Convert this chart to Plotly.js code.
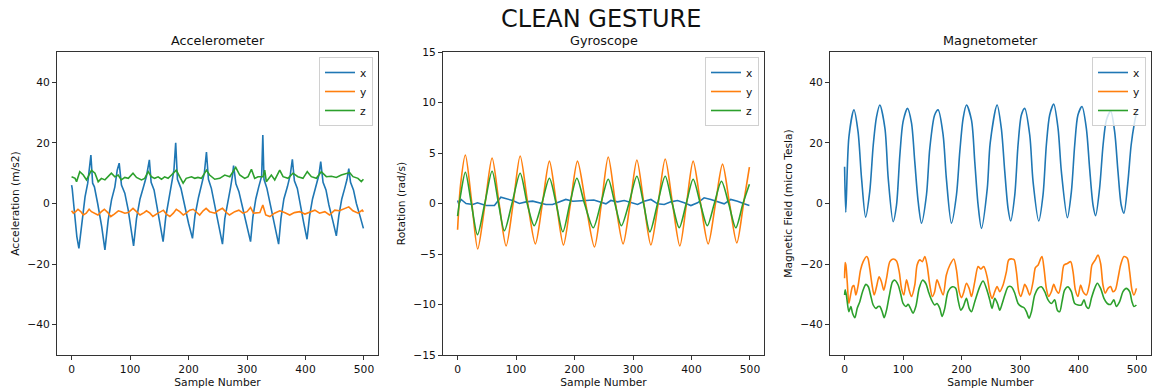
<!DOCTYPE html>
<html>
<head>
<meta charset="utf-8">
<script src="https://cdn.plot.ly/plotly-3.0.1.min.js"></script>
<style>html,body{margin:0;padding:0;background:#fff;}#chart{width:1153px;height:392px;}</style>
</head>
<body>
<div id="chart"></div>
<script>
// ---------- Accelerometer ----------
const accXs = [0,1,5.6,9,12.5,17.6,23,27.6,30.4,33,36,39,44.6,51.5,57,62.6,68.3,74,78,81.4,85.3,91,96.8,102.5,106,111,117,123,128,133,136,141,146,152,156.5,161,166,171,175,178,181,187,193,200,206.7,211,217,222,227,230.6,234,239,245,252,258,262,267,272,275,277,281,286,292,299,306,310,315,320,325,327,329,334,340,347,354,358,363,369,374,377.5,381,386,391,397,402.6,407,412,418,423,426,430,435,440,447,452.7,457,462,467,471,474,477,482,487,493,499];
const accX  = [6.1,5.0,-4.3,-10.9,-14.8,-5.4,2.2,6.7,12.1,16,6.7,5.5,0,-7.6,-15.3,-5.4,1.2,5.5,11,13.3,6.1,3.4,-2.1,-8.7,-14.0,-5,1.5,5.5,9,14.4,7,4.5,-1,-7,-12.6,-4.5,1.5,6,11,20,8,5,-0.5,-6.5,-11.5,-4,2,6,10,17,8,5,-0.5,-7.5,-13.4,-5,1,5.5,9,12.5,6.5,4,-1,-7,-12.6,-4.5,1.5,5.5,9,22.6,8,5,-0.5,-7,-13.4,-5,1.5,5.5,9.5,14.6,7.5,5,-0.5,-6.5,-11.8,-4,1.5,5.5,9.5,13.8,7,4.5,-0.5,-6,-10.7,-4,1.5,5,8,11.5,7,4.5,0,-4,-8.2];
const accYs = [0,3,7,11,16,20,25,30,34,40,45,51,56,62,67,73,80,85,91,97,105,111,117,124,128,134,139,145,151,157,162,168,174,179,185,191,196,202,208,214,219,225,230,236,245,250,258,265,270,279,286,293,300,306,311,322,327,332,339,347,356,364,373,381,390,399,407,416,424,433,441,450,458,467,474,481,490,497,499];
const accY  = [-2.4,-3.2,-2.7,-1.9,-2.7,-3.8,-3.2,-1.9,-2.7,-3.2,-3.8,-2.7,-1.9,-3.0,-4.3,-3.5,-2.4,-2.7,-3.2,-3.0,-1.6,-2.7,-3.8,-3.0,-2.4,-3.2,-4.3,-3.5,-2.7,-2.2,-3.5,-4.3,-3.2,-1.9,-2.7,-3.8,-3.2,-2.2,-1.9,-3.0,-3.8,-2.4,-1.6,-2.7,-3.2,-2.4,-1.6,-3.0,-3.8,-2.7,-2.2,-3.2,-2.7,-1.3,-3.2,-3.0,-0.5,-3.8,-4.3,-3.2,-2.4,-3.0,-3.8,-3.0,-2.7,-3.5,-3.0,-2.2,-3.2,-2.7,-3.8,-2.2,-2.4,-1.6,-1.1,-2.4,-3.2,-2.2,-2.7];
const accZs = [0,6,8.5,14,20,25.5,34,40,45.5,51,57,62.5,68,74,79.7,85,91,97,105,111,119.5,125,131,136.6,142,148,153.7,159,165,170.8,179,185,190.7,196,205,210.6,216,222,230.6,236,244.8,253.4,261.9,270.5,280.7,287.5,296,301.8,307.5,313.1,318.8,327.4,330.2,333,341.6,347.4,355.9,361.6,370,378.6,387,395.7,403,410,418.5,427,435.6,444.1,452.7,461.2,469.8,475.5,481.2,489.7,495.4,499];
const accZ  = [8.8,8.3,7.2,10.5,9.4,7.8,11.0,10.0,7.2,8.3,7.8,8.8,10.0,8.8,9.4,7.8,8.6,8.3,10.0,8.6,7.8,8.3,10.5,8.8,8.3,8.8,8.0,8.8,8.3,9.4,11.0,8.8,6.7,8.3,8.8,8.3,8.6,8.3,11.0,9.4,8.0,8.3,9.4,8.85,11.9,9.4,8.3,8.85,11.3,8.3,8.85,8.85,11.0,7.2,9.4,7.8,11.0,8.85,8.3,10.0,8.85,8.3,10.5,8.85,8.3,10.5,8.85,9.0,8.6,9.4,10.0,10.2,8.85,8.3,7.2,8.0];

// ---------- Gyroscope ----------
const gyrXs = [0,2,6,14.5,26,34,48.6,63,74,83,94,105.6,117,128.4,140,151,162.5,174,185,197,208,219.5,233,245,253.6,262,273.6,285,296.4,307.8,319,330.6,342,353.3,364.7,376,387.5,398.9,410.3,421.6,433,444.4,455.8,467,478.6,490,499];
const gyrX  = [0.3,-0.03,0.4,0,-0.1,0.07,-0.2,-0.2,0.62,0.5,0.3,0,0.16,0.23,0.07,-0.1,-0.1,0.16,0.4,0.23,0.23,0.3,0.35,0.16,-0.03,0.3,0.16,0.3,0.07,-0.1,0.23,0.4,-0.03,-0.1,0.16,0.3,0.07,-0.2,0.07,0.56,0.4,0.16,-0.03,0.4,0.23,-0.03,-0.2];
const gyrYs = [0,5,13.3,24,34.4,47,59,71,83,95,107,120,133,145,157,169,181,193,205,219,234,246,257.6,270,283,295,306.6,318.5,330.5,343,355,367.5,380,391.5,402.8,415.5,428.5,441,453,465,477.5,489,499];
const gyrY  = [-2.6,1.8,4.8,0.2,-4.5,0,4.5,0,-4.2,0,4.7,0,-4.0,0,4.2,0,-4.1,0,4.2,0,-4.3,0,4.6,0,-4.0,0,4.3,0,-4.1,0,4.4,0,-4.2,0,4.2,0,-4.0,0,3.9,0,-3.9,0,3.6];
const gyrZs = [0,5,13.3,23.5,34,46.5,59,70,80,93,107,119,131,144,157,168.5,180,192,204,217,232,245,257.6,269,280,293,306.6,318,328.8,342,355,367,379,391,402.8,415,427,439,451.2,463.5,475.7,488,499];
const gyrZ  = [-1.25,0.8,3.1,0,-3.1,0,3.2,0,-2.7,0,3.0,0,-2.2,0,2.5,0,-2.8,0,2.5,0,-2.4,0,2.4,0,-2.2,0,2.7,0,-2.8,0,2.7,0,-2.4,0,2.4,0,-2.2,0,2.2,0,-2.4,0,1.9];

// ---------- Magnetometer ----------
const magXs = [0,2,7.4,16,23,29,36,43,49,54.6,60.3,69,74.6,83,88.8,94.5,100,107.6,114.4,120,125.8,131.5,140,145.7,154,160,168.5,174,182.7,191.3,197,202.7,208.4,217,222.6,228.3,234,244,249,260.8,268,273.9,279.5,284,291,296.6,302.3,308,316.6,322.3,332,339.3,345,350.7,357.6,365,370.7,381,387.8,393.5,399,406,413.4,419,424.8,429.3,436,442,447.6,455,461.8,467.5,473,477.7,484.5,490,496,499];
const magX  = [12.1,-2.9,22,30.9,23.7,8.3,-4.5,3.9,19.3,28.6,32.5,24.8,8.3,-6,-0.5,16,27,31.4,26.6,13.8,0.6,-6.5,2.8,18.2,29.2,30.9,22.6,8.3,-6.5,2.8,17.1,28.1,32.5,27.5,13.8,-0.5,-8.2,5,20,32.5,24.8,10.5,-1.6,-5.8,2.8,19.3,29.2,31.4,22.6,7.2,-5.8,2.8,19.3,29.2,32.8,24.8,10.5,-4.7,3.9,19.3,29.2,32,24.8,11.6,-0.5,-4,4.9,19.3,27.5,30.5,23.7,10.5,-0.5,-3.2,7.2,19.3,27,29.8];
const magYs = [0,1,2.2,4.5,7.3,10.2,13.6,15.9,19.3,23.3,27.3,31.8,37.5,40,43,47,50.6,54.6,59,63,67,71.7,77.4,83,88.8,93.4,97.3,101.3,105.9,110.4,114.4,120,124,128.6,133,137.2,141,145.7,150,154,158,162.8,168.5,174,180,186.7,191.3,196,200,204,208.4,213,217,222.6,228.3,233,238,244.3,248.2,252.2,256.8,260.8,265.3,271,276.7,280.7,286.4,290,293.8,297.8,301.2,305.2,308,312,316.6,322.3,326.3,331,335.4,337.6,341,345,349,353.6,357.6,361.6,366,370.7,375.2,380.9,386.6,390.6,394.6,399,403.7,407.7,413.4,419,423,428.7,433.3,437.8,441.8,445.8,450.4,455,458.9,463,467.5,472,477.7,483.4,487.4,491.4,494.8,499];
const magY  = [-24.7,-19.5,-20.3,-25.8,-33,-30.2,-27.4,-27.1,-30.2,-26.9,-21.9,-19.2,-17.5,-18.1,-21.4,-26.9,-30.2,-27.5,-24.2,-25.8,-28.6,-24.7,-19.2,-18.3,-19.0,-22.5,-28,-30.2,-25.2,-28.6,-30.7,-26.9,-20.3,-18.6,-19.2,-17.5,-20.3,-26.9,-30.7,-29.1,-25.2,-27.5,-30.2,-23.6,-20.3,-18.3,-21.9,-29.1,-31.1,-29.1,-26.3,-28,-30.7,-25.8,-20.8,-21.6,-20.8,-24.7,-29.1,-31.3,-29.1,-27.4,-29.1,-26.9,-22.5,-18.6,-18.3,-18.6,-22.5,-29.1,-30.7,-28.5,-26.7,-28,-30.2,-25.8,-21.2,-20.3,-18.1,-17.5,-21.4,-28,-30.7,-29.1,-26.7,-28.5,-29.6,-25.8,-20.3,-19.8,-19.2,-22.5,-28.5,-30.7,-26.9,-29.1,-30.2,-26.3,-20.3,-18.6,-17,-19.8,-26.9,-29.6,-28,-27.4,-29.1,-28.5,-24.7,-20.3,-17.5,-18.1,-22.5,-28.5,-30.2,-28];
const magZs = [0,1,3.4,7.3,10.7,13.6,17.6,21.6,26,30.7,36.4,40.4,44.4,48.9,53.5,57.4,60.3,64.3,67.7,71.7,76.2,82,86,91.6,95.6,100,104.7,108.7,112.7,117,121.8,127.5,133.2,138.9,143.4,148.6,154,158,162.8,166.8,171.3,177,184.5,190,194,198.7,203,208.4,213,217,222.6,231,236.8,244.3,248.2,252.2,256.8,261.4,265.3,269.5,274,279.6,285.3,291,296.7,302.3,306.9,310.9,315.5,319.5,325.1,330.8,336.5,342.2,347.9,353.6,359.2,363.8,367.8,371.8,376.4,382,387.8,393.5,399.2,404.8,409.4,413.4,417.4,422,427.6,432.2,437.8,443.5,449.2,454.9,460.5,464.6,470.3,476,481.7,487.4,491.4,494.8,499];
const magZ  = [-30.2,-28.5,-30.7,-35.7,-34,-36.2,-37.7,-34.6,-32.4,-29.1,-26.7,-27.4,-30.2,-33.5,-34.6,-34,-34,-35.7,-37.7,-35.2,-30.7,-25.8,-25.3,-26.9,-29.6,-33,-34,-33.3,-34.6,-36.2,-34,-28,-25.3,-26.4,-29.1,-31.8,-33.5,-33,-34.6,-37.3,-34.6,-29.1,-27.5,-28,-31.8,-35.2,-34,-31.3,-34.6,-35.7,-32.4,-27.5,-25.6,-29.1,-31.8,-34.6,-31.3,-33,-35.2,-33,-30.2,-27.5,-27.5,-29.6,-33,-34,-34.4,-35.7,-37.9,-35.7,-30.2,-28,-27.5,-29.1,-31.8,-33,-31.8,-35.2,-35.7,-32.4,-28.5,-27.5,-29.1,-33,-33.5,-33.5,-31.8,-34,-34.6,-31.3,-28,-26.3,-28,-31.3,-33,-33.3,-31.8,-34,-32.4,-29.1,-28,-29.1,-32.4,-34,-33.5];

const seriesNames = ['x','y','z'];
const colors = ['#1f77b4','#ff7f0e','#2ca02c'];
const xTicks = [0,100,200,300,400,500];
const accTicks = [-40,-20,0,20,40];
const gyrTicks = [-15,-10,-5,0,5,10,15];
const magTicks = [-40,-20,0,20,40];
const subTitles = ['Accelerometer','Gyroscope','Magnetometer'];
const yTitles = ['Acceleration (m/s2)','Rotation (rad/s)','Magnetic Field (micro Tesla)'];
const mainTitle = 'CLEAN GESTURE';

const FONT = 'DejaVu Sans, Verdana, sans-serif';
const W = 1153, H = 392;
const px = v => v / W, py = v => 1 - v / H;

const groups = [
  {xs:[accXs,accYs,accZs], ys:[accX,accY,accZ], shape:'linear', legend:'legend'},
  {xs:[gyrXs,gyrYs,gyrZs], ys:[gyrX,gyrY,gyrZ], shape:'spline', legend:'legend2'},
  {xs:[magXs,magYs,magZs], ys:[magX,magY,magZ], shape:'spline', legend:'legend3'}
];
const traces = [];
groups.forEach((g, gi) => {
  for (let k = 0; k < 3; k++) {
    traces.push({
      x: g.xs[k], y: g.ys[k], type: 'scatter', mode: 'lines',
      name: seriesNames[k], legend: g.legend,
      xaxis: gi === 0 ? 'x' : 'x' + (gi + 1),
      yaxis: gi === 0 ? 'y' : 'y' + (gi + 1),
      line: {color: colors[k], width: 1.6, shape: (g.shape === 'spline' && !(gi === 1 && k === 0)) ? 'spline' : 'linear', smoothing: 0.8}
    });
  }
});

const boxes = [[57,378],[443,764],[830,1151]];
const yRanges = [[-50,50],[-15,15],[-50,50]];
const yTickSets = [accTicks, gyrTicks, magTicks];

const axBase = {
  showline: true, mirror: true, linecolor: '#333', linewidth: 1,
  ticks: 'outside', ticklen: 4, tickcolor: '#333', tickwidth: 1,
  showgrid: false, zeroline: false,
  tickfont: {family: FONT, size: 10.7, color: '#111'}
};

const layout = {
  width: W, height: H, margin: {l:0, r:0, t:0, b:0},
  paper_bgcolor: '#fff', plot_bgcolor: '#fff',
  font: {family: FONT, color: '#111'},
  annotations: [],
  showlegend: true
};

for (let i = 0; i < 3; i++) {
  const sfx = i === 0 ? '' : String(i + 1);
  layout['xaxis' + sfx] = Object.assign({}, axBase, {
    domain: [px(boxes[i][0]), px(boxes[i][1])],
    range: [-24.95, 523.95], tickvals: xTicks, anchor: 'y' + sfx,
    title: {text: 'Sample Number', font: {family: FONT, size: 10.7, color: '#111'}, standoff: 3}
  });
  layout['yaxis' + sfx] = Object.assign({}, axBase, {
    domain: [py(355), py(52)],
    range: yRanges[i], tickvals: yTickSets[i], anchor: 'x' + sfx,
    title: {text: yTitles[i], font: {family: FONT, size: 10.7, color: '#111'}, standoff: 5}
  });
  layout.annotations.push({
    text: subTitles[i], xref: 'paper', yref: 'paper',
    x: px((boxes[i][0] + boxes[i][1]) / 2), y: py(49),
    xanchor: 'center', yanchor: 'bottom', showarrow: false, borderpad: 0,
    font: {family: FONT, size: 12.8, color: '#111'}
  });
  const lg = i === 0 ? 'legend' : 'legend' + (i + 1);
  layout[lg] = {
    x: px(boxes[i][1] - 5), y: py(57), xanchor: 'right', yanchor: 'top',
    bgcolor: 'rgba(255,255,255,0.8)', bordercolor: '#d0d0d0', borderwidth: 1,
    font: {family: FONT, size: 10.7, color: '#111'},
    itemwidth: 30, tracegroupgap: 0
  };
}
layout.annotations.push({
  text: mainTitle, xref: 'paper', yref: 'paper', x: px(601), y: py(34),
  xanchor: 'center', yanchor: 'bottom', showarrow: false, borderpad: 0,
  font: {family: FONT, size: 24, color: '#111'}
});

Plotly.newPlot('chart', traces, layout, {displayModeBar: false, staticPlot: true});
</script>
</body>
</html>
